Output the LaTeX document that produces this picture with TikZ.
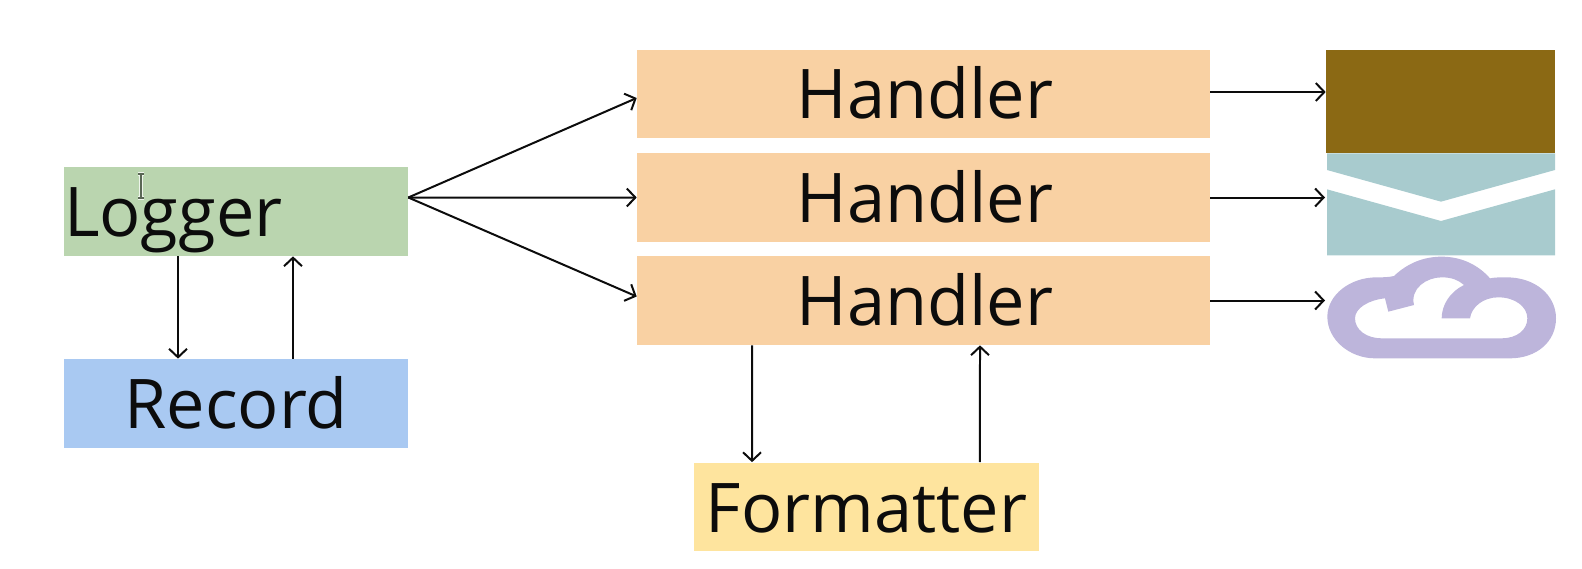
\documentclass[tikz,border=0pt]{standalone}
\usepackage{fontspec}
\setmainfont{Open Sans}
\usetikzlibrary{arrows.meta, positioning}
\definecolor{cgreen}{HTML}{BAD5AF}
\definecolor{cblue}{HTML}{A9C9F2}
\definecolor{corange}{HTML}{F9D1A3}
\definecolor{cyellow}{HTML}{FEE49E}
\definecolor{cbrown}{HTML}{8B6914}
\definecolor{cteal}{HTML}{A8CBCE}
\definecolor{clav}{HTML}{BDB5DB}
\definecolor{cink}{HTML}{0C0C0C}
\tikzset{
  box/.style={fill=#1, text=cink, minimum height=1.78cm, inner xsep=0pt, inner ysep=0pt, align=center,
     font=\fontsize{39}{39}\selectfont, text height=1cm, text depth=0pt},
  box/.default=corange,
  arrow/.style={-{Straight Barb[length=1.7mm, width=3.6mm]}, draw=cink, line width=0.4mm},
}
\begin{document}
\begin{tikzpicture}[x=0.02cm, y=-0.02cm]
  \useasboundingbox (0,0) rectangle (1582,568);
  \node[box=cgreen, text width=6.88cm, align=left] (logger) at (236,211.5) {Logger};
  \node[box=cblue, text width=6.88cm] (record) at (236,403.5) {Record};
  \node[box, text width=11.46cm] (handlera) at (923.5,94) {\hspace*{0.6mm}Handler};
  \node[box, text width=11.46cm] (handlerb) at (923.5,197.5) {\hspace*{0.6mm}Handler};
  \node[box, text width=11.46cm] (handlerc) at (923.5,300.5) {\hspace*{0.6mm}Handler};
  \node[box=cyellow, text width=6.9cm] (formatter) at (866.5,507) {Formatter};
  % the three outputs
  \node[fill=cbrown, minimum width=4.58cm, minimum height=2.06cm, inner sep=0pt] (file) at (1440.5,101.5) {};
  \coordinate (mail) at (1325,197.5);
  \coordinate (cloud) at (1325,300.5);
  \begin{scope}[shift={(1290,30)}, x=0.00667cm, y=-0.00667cm]
    \fill[cteal] (111,370) -- (795,370) -- (795,420) -- (453,515) -- (111,420) -- cycle;
    \fill[cteal] (111,478) -- (453,573) -- (795,478) -- (795,676) -- (111,676) -- cycle;
  \end{scope}
  \begin{scope}[shift={(1320,250)}, x=0.00667cm, y=-0.00667cm]
    \fill[clav, even odd rule] (222,78) .. controls (262,40) and (310,20) .. (365,20)
       .. controls (425,20) and (475,45) .. (510,85) .. controls (525,82) and (540,82) .. (560,82)
       .. controls (645,82) and (708,135) .. (708,205) .. controls (708,275) and (650,325) .. (570,325)
       -- (165,325) .. controls (90,325) and (22,270) .. (22,200) .. controls (22,135) and (90,82) .. (170,82)
       .. controls (190,82) and (205,82) .. (222,78) -- cycle
       (105,205) .. controls (105,175) and (145,150) .. (195,145) -- (205,185) -- (282,165)
       .. controls (270,115) and (320,82) .. (365,82) .. controls (395,82) and (415,90) .. (432,105)
       .. controls (390,125) and (365,165) .. (365,205) -- (450,205)
       .. controls (455,170) and (490,142) .. (535,142) .. controls (585,142) and (622,170) .. (622,205)
       .. controls (622,240) and (590,265) .. (545,265) -- (185,265) .. controls (140,265) and (105,240) .. (105,205) -- cycle;
  \end{scope}
  % logger and record
  \draw[arrow] ([xshift=-1.16cm]logger.south) -- ([xshift=-1.16cm]record.north);
  \draw[arrow] ([xshift=1.14cm]record.north) -- ([xshift=1.14cm]logger.south);
  \draw[arrow] ([yshift=2.8mm]logger.east) -- ([yshift=-0.8mm]handlera.west);
  \draw[arrow] ([yshift=2.8mm]logger.east) -- (handlerb.west);
  \draw[arrow] ([yshift=2.8mm]logger.east) -- ([yshift=0.8mm]handlerc.west);
  % handlers to outputs
  \draw[arrow] ([yshift=0.4mm]handlera.east) -- ([yshift=0.4mm]file.west |- handlera.east);
  \draw[arrow] (handlerb.east) -- (mail);
  \draw[arrow] (handlerc.east) -- (cloud);
  \draw[arrow] ([xshift=-3.43cm]handlerc.south) -- ([xshift=-2.29cm]formatter.north);
  \draw[arrow] ([xshift=2.27cm]formatter.north) -- ([xshift=1.13cm]handlerc.south);
  % text cursor
  \draw[white!75!cgreen, line width=0.7mm] (141,175) -- (141,197) (138,174) -- (144,174) (138,198) -- (144,198);
  \draw[cink!55!cgreen, line width=0.3mm] (141,175) -- (141,197) (138,174) -- (144,174) (138,198) -- (144,198);
\end{tikzpicture}
\end{document}
